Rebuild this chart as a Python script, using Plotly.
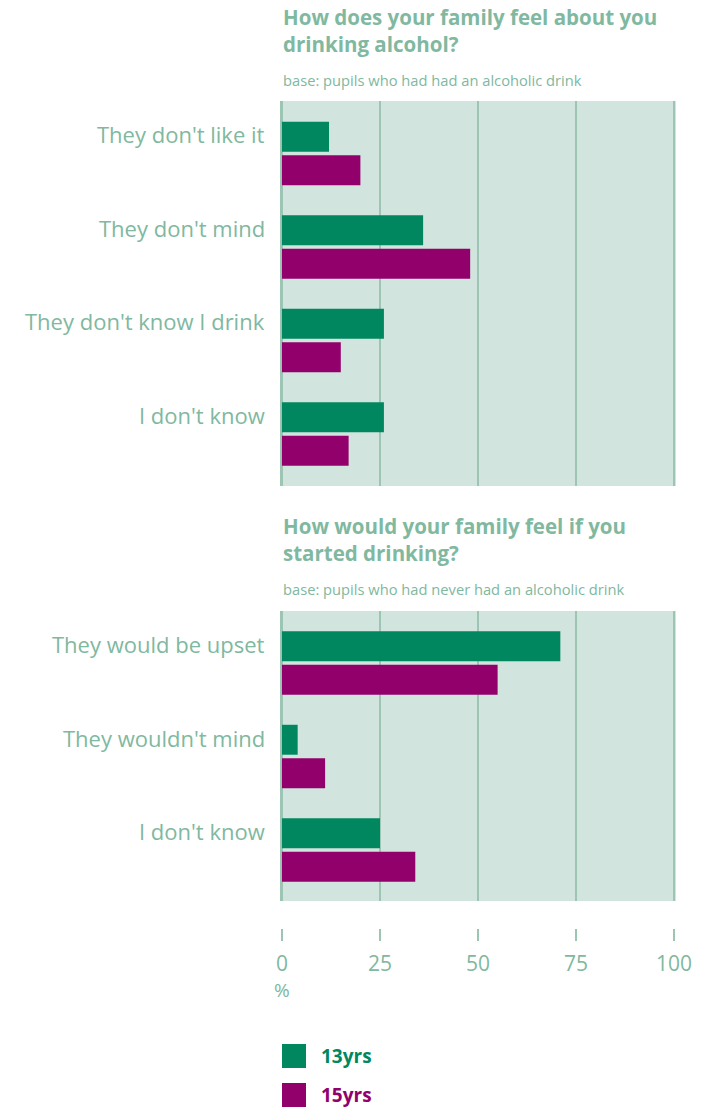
import plotly.graph_objects as go

# ---- data ----
cats_top = ["They don't like it", "They don't mind", "They don't know I drink", "I don't know"]
top_13 = [12, 36, 26, 26]
top_15 = [20, 48, 15, 17]

cats_bot = ["They would be upset", "They wouldn't mind", "I don't know "]
bot_13 = [71, 4, 25]
bot_15 = [55, 11, 34]

series_names = ["13yrs", "15yrs"]
x_ticks = [0, 25, 50, 75, 100]

title_top = "How does your family feel about you<br>drinking alcohol?"
sub_top = "base: pupils who had had an alcoholic drink"
title_bot = "How would your family feel if you<br>started drinking?"
sub_bot = "base: pupils who had never had an alcoholic drink"

# ---- style ----
W, H = 718, 1108
GREEN = "#00875f"
PURPLE = "#92006c"
TXT = "#80b8a0"
BG = "#d2e4de"
GRID = "#9cc5b4"
FONT = "Open Sans"

def py(px):
    return 1 - px / H

def pxx(px):
    return px / W

fig = go.Figure()
fig.add_trace(go.Bar(y=cats_top, x=top_13, orientation="h", marker_color=GREEN,
                     name=series_names[0], xaxis="x", yaxis="y", showlegend=False))
fig.add_trace(go.Bar(y=cats_top, x=top_15, orientation="h", marker_color=PURPLE,
                     name=series_names[1], xaxis="x", yaxis="y", showlegend=False))
fig.add_trace(go.Bar(y=cats_bot, x=bot_13, orientation="h", marker_color=GREEN,
                     name=series_names[0], xaxis="x2", yaxis="y2", showlegend=False))
fig.add_trace(go.Bar(y=cats_bot, x=bot_15, orientation="h", marker_color=PURPLE,
                     name=series_names[1], xaxis="x2", yaxis="y2", showlegend=False))
fig.update_traces(marker_line_width=0, hoverinfo="skip")

xdom = [pxx(281), pxx(676)]
xcommon = dict(range=[-0.25, 100.5], domain=xdom, tickvals=x_ticks,
               showgrid=True, gridcolor=GRID, gridwidth=2,
               zeroline=True, zerolinecolor=GRID, zerolinewidth=3,
               showline=False, fixedrange=True, automargin=False)

annotations = []
shapes = []

fig.update_layout(
    width=W, height=H,
    margin=dict(l=0, r=0, t=0, b=0, pad=0, autoexpand=False),
    paper_bgcolor="white",
    plot_bgcolor=BG,
    barmode="group",
    bargap=0.283,
    bargroupgap=0.107,
    font=dict(family=FONT, color=TXT, size=20),
    xaxis=dict(**xcommon, anchor="y", showticklabels=False, ticks=""),
    yaxis=dict(domain=[py(486), py(101)], range=[3.556, -0.561], type="category",
               categoryarray=cats_top, showticklabels=False, showgrid=False,
               zeroline=False, fixedrange=True, anchor="x", automargin=False),
    xaxis2=dict(**xcommon, anchor="free", position=py(928), showticklabels=True,
                ticks="outside", ticklen=12, tickwidth=2, tickcolor=GRID,
                ticklabelstandoff=5,
                tickfont=dict(size=21, color=TXT, family=FONT)),
    yaxis2=dict(domain=[py(901), py(611)], range=[2.545, -0.556], type="category",
                categoryarray=cats_bot, showticklabels=False, showgrid=False,
                zeroline=False, fixedrange=True, anchor="x2", automargin=False),
)

# category labels aligned to the 13yrs bar
for c in cats_top:
    annotations.append(dict(text=c, x=pxx(267), xref="paper", xanchor="right",
                            y=c, yref="y", yanchor="middle", yshift=19,
                            showarrow=False, font=dict(size=22, color=TXT, family=FONT)))
for c in cats_bot:
    annotations.append(dict(text=c.strip(), x=pxx(267), xref="paper", xanchor="right",
                            y=c, yref="y2", yanchor="middle", yshift=19,
                            showarrow=False, font=dict(size=22, color=TXT, family=FONT)))

# titles and subtitles
for t, ytop, s, ys in [(title_top, 1, sub_top, 80), (title_bot, 510, sub_bot, 589)]:
    annotations.append(dict(text="<b>" + t + "</b>", x=pxx(281), xref="paper", xanchor="left",
                            y=py(ytop), yref="paper", yanchor="top", align="left",
                            showarrow=False, font=dict(size=20.5, color=TXT, family=FONT)))
    annotations.append(dict(text=s, x=pxx(281), xref="paper", xanchor="left",
                            y=py(ys), yref="paper", yanchor="middle", align="left",
                            showarrow=False, font=dict(size=14.7, color=TXT, family=FONT)))

# percent label
annotations.append(dict(text="%", x=pxx(282), xref="paper", xanchor="center",
                        y=py(990), yref="paper", yanchor="middle",
                        showarrow=False, font=dict(size=19, color=TXT, family=FONT)))

# legend
for name, col, ytop in [(series_names[0], GREEN, 1044), (series_names[1], PURPLE, 1083)]:
    shapes.append(dict(type="rect", xref="paper", yref="paper",
                       x0=pxx(282), x1=pxx(306), y0=py(ytop + 24), y1=py(ytop),
                       fillcolor=col, line=dict(width=0)))
    annotations.append(dict(text="<b>" + name + "</b>", x=pxx(319), xref="paper", xanchor="left",
                            y=py(ytop + 12), yref="paper", yanchor="middle",
                            showarrow=False, font=dict(size=19, color=col, family=FONT)))

fig.update_layout(annotations=annotations, shapes=shapes)
fig.write_html("out.html", config={"displayModeBar": False},
               post_script="document.body.style.margin='0';document.body.style.overflow='hidden';")
